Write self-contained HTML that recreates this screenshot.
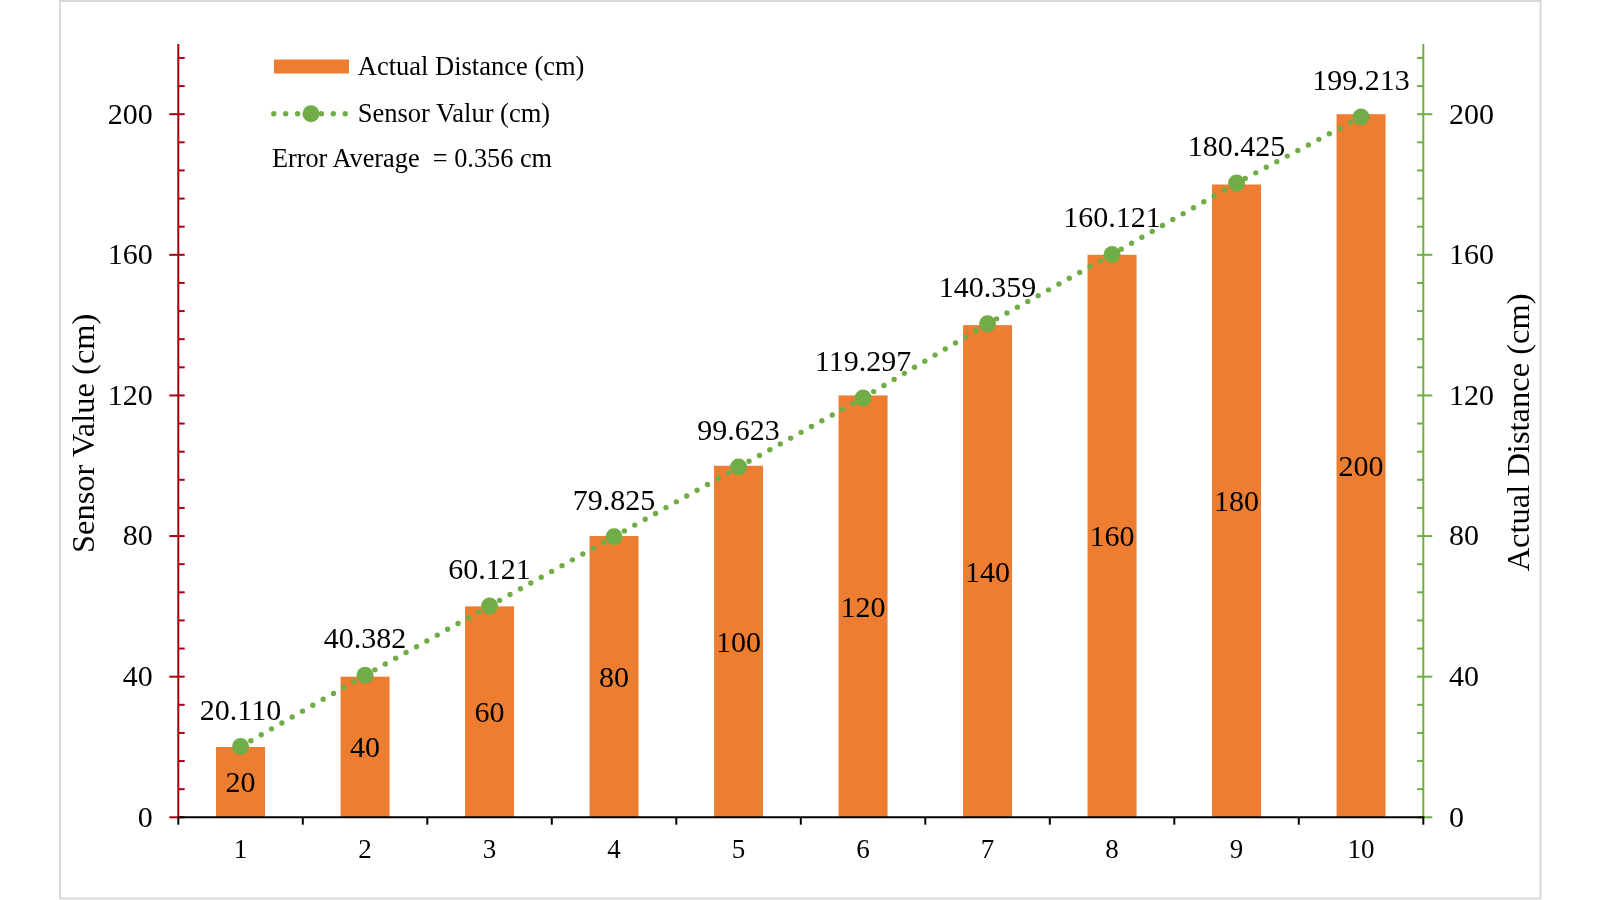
<!DOCTYPE html><html><head><meta charset="utf-8"><style>html,body{margin:0;padding:0;background:#fff;}svg{display:block;will-change:transform;}text{font-family:"Liberation Serif",serif;fill:#000;}</style></head><body>
<svg width="1600" height="900" viewBox="0 0 1600 900">
<rect x="0" y="0" width="1600" height="900" fill="#fff"/>
<rect x="60" y="1" width="1480.5" height="897.5" fill="none" stroke="#d9d9d9" stroke-width="2"/>
<rect x="216.05" y="746.99" width="49" height="70.31" fill="#ed7d31"/>
<rect x="340.55" y="676.68" width="49" height="140.62" fill="#ed7d31"/>
<rect x="465.05" y="606.37" width="49" height="210.93" fill="#ed7d31"/>
<rect x="589.55" y="536.06" width="49" height="281.24" fill="#ed7d31"/>
<rect x="714.05" y="465.75" width="49" height="351.55" fill="#ed7d31"/>
<rect x="838.55" y="395.44" width="49" height="421.86" fill="#ed7d31"/>
<rect x="963.05" y="325.13" width="49" height="492.17" fill="#ed7d31"/>
<rect x="1087.55" y="254.82" width="49" height="562.48" fill="#ed7d31"/>
<rect x="1212.05" y="184.51" width="49" height="632.79" fill="#ed7d31"/>
<rect x="1336.55" y="114.20" width="49" height="703.10" fill="#ed7d31"/>
<line x1="169.3" y1="817.30" x2="184.7" y2="817.30" stroke="#a8000f" stroke-width="2"/>
<line x1="178.3" y1="789.18" x2="184.7" y2="789.18" stroke="#a8000f" stroke-width="2"/>
<line x1="178.3" y1="761.05" x2="184.7" y2="761.05" stroke="#a8000f" stroke-width="2"/>
<line x1="178.3" y1="732.93" x2="184.7" y2="732.93" stroke="#a8000f" stroke-width="2"/>
<line x1="178.3" y1="704.80" x2="184.7" y2="704.80" stroke="#a8000f" stroke-width="2"/>
<line x1="169.3" y1="676.68" x2="184.7" y2="676.68" stroke="#a8000f" stroke-width="2"/>
<line x1="178.3" y1="648.56" x2="184.7" y2="648.56" stroke="#a8000f" stroke-width="2"/>
<line x1="178.3" y1="620.43" x2="184.7" y2="620.43" stroke="#a8000f" stroke-width="2"/>
<line x1="178.3" y1="592.31" x2="184.7" y2="592.31" stroke="#a8000f" stroke-width="2"/>
<line x1="178.3" y1="564.18" x2="184.7" y2="564.18" stroke="#a8000f" stroke-width="2"/>
<line x1="169.3" y1="536.06" x2="184.7" y2="536.06" stroke="#a8000f" stroke-width="2"/>
<line x1="178.3" y1="507.94" x2="184.7" y2="507.94" stroke="#a8000f" stroke-width="2"/>
<line x1="178.3" y1="479.81" x2="184.7" y2="479.81" stroke="#a8000f" stroke-width="2"/>
<line x1="178.3" y1="451.69" x2="184.7" y2="451.69" stroke="#a8000f" stroke-width="2"/>
<line x1="178.3" y1="423.56" x2="184.7" y2="423.56" stroke="#a8000f" stroke-width="2"/>
<line x1="169.3" y1="395.44" x2="184.7" y2="395.44" stroke="#a8000f" stroke-width="2"/>
<line x1="178.3" y1="367.32" x2="184.7" y2="367.32" stroke="#a8000f" stroke-width="2"/>
<line x1="178.3" y1="339.19" x2="184.7" y2="339.19" stroke="#a8000f" stroke-width="2"/>
<line x1="178.3" y1="311.07" x2="184.7" y2="311.07" stroke="#a8000f" stroke-width="2"/>
<line x1="178.3" y1="282.94" x2="184.7" y2="282.94" stroke="#a8000f" stroke-width="2"/>
<line x1="169.3" y1="254.82" x2="184.7" y2="254.82" stroke="#a8000f" stroke-width="2"/>
<line x1="178.3" y1="226.70" x2="184.7" y2="226.70" stroke="#a8000f" stroke-width="2"/>
<line x1="178.3" y1="198.57" x2="184.7" y2="198.57" stroke="#a8000f" stroke-width="2"/>
<line x1="178.3" y1="170.45" x2="184.7" y2="170.45" stroke="#a8000f" stroke-width="2"/>
<line x1="178.3" y1="142.32" x2="184.7" y2="142.32" stroke="#a8000f" stroke-width="2"/>
<line x1="169.3" y1="114.20" x2="184.7" y2="114.20" stroke="#a8000f" stroke-width="2"/>
<line x1="178.3" y1="86.08" x2="184.7" y2="86.08" stroke="#a8000f" stroke-width="2"/>
<line x1="178.3" y1="57.95" x2="184.7" y2="57.95" stroke="#a8000f" stroke-width="2"/>
<line x1="178.3" y1="43.89" x2="178.3" y2="817.30" stroke="#a8000f" stroke-width="2"/>
<line x1="1417" y1="817.30" x2="1432.3" y2="817.30" stroke="#70ad47" stroke-width="2"/>
<line x1="1417" y1="789.18" x2="1423.3" y2="789.18" stroke="#70ad47" stroke-width="2"/>
<line x1="1417" y1="761.05" x2="1423.3" y2="761.05" stroke="#70ad47" stroke-width="2"/>
<line x1="1417" y1="732.93" x2="1423.3" y2="732.93" stroke="#70ad47" stroke-width="2"/>
<line x1="1417" y1="704.80" x2="1423.3" y2="704.80" stroke="#70ad47" stroke-width="2"/>
<line x1="1417" y1="676.68" x2="1432.3" y2="676.68" stroke="#70ad47" stroke-width="2"/>
<line x1="1417" y1="648.56" x2="1423.3" y2="648.56" stroke="#70ad47" stroke-width="2"/>
<line x1="1417" y1="620.43" x2="1423.3" y2="620.43" stroke="#70ad47" stroke-width="2"/>
<line x1="1417" y1="592.31" x2="1423.3" y2="592.31" stroke="#70ad47" stroke-width="2"/>
<line x1="1417" y1="564.18" x2="1423.3" y2="564.18" stroke="#70ad47" stroke-width="2"/>
<line x1="1417" y1="536.06" x2="1432.3" y2="536.06" stroke="#70ad47" stroke-width="2"/>
<line x1="1417" y1="507.94" x2="1423.3" y2="507.94" stroke="#70ad47" stroke-width="2"/>
<line x1="1417" y1="479.81" x2="1423.3" y2="479.81" stroke="#70ad47" stroke-width="2"/>
<line x1="1417" y1="451.69" x2="1423.3" y2="451.69" stroke="#70ad47" stroke-width="2"/>
<line x1="1417" y1="423.56" x2="1423.3" y2="423.56" stroke="#70ad47" stroke-width="2"/>
<line x1="1417" y1="395.44" x2="1432.3" y2="395.44" stroke="#70ad47" stroke-width="2"/>
<line x1="1417" y1="367.32" x2="1423.3" y2="367.32" stroke="#70ad47" stroke-width="2"/>
<line x1="1417" y1="339.19" x2="1423.3" y2="339.19" stroke="#70ad47" stroke-width="2"/>
<line x1="1417" y1="311.07" x2="1423.3" y2="311.07" stroke="#70ad47" stroke-width="2"/>
<line x1="1417" y1="282.94" x2="1423.3" y2="282.94" stroke="#70ad47" stroke-width="2"/>
<line x1="1417" y1="254.82" x2="1432.3" y2="254.82" stroke="#70ad47" stroke-width="2"/>
<line x1="1417" y1="226.70" x2="1423.3" y2="226.70" stroke="#70ad47" stroke-width="2"/>
<line x1="1417" y1="198.57" x2="1423.3" y2="198.57" stroke="#70ad47" stroke-width="2"/>
<line x1="1417" y1="170.45" x2="1423.3" y2="170.45" stroke="#70ad47" stroke-width="2"/>
<line x1="1417" y1="142.32" x2="1423.3" y2="142.32" stroke="#70ad47" stroke-width="2"/>
<line x1="1417" y1="114.20" x2="1432.3" y2="114.20" stroke="#70ad47" stroke-width="2"/>
<line x1="1417" y1="86.08" x2="1423.3" y2="86.08" stroke="#70ad47" stroke-width="2"/>
<line x1="1417" y1="57.95" x2="1423.3" y2="57.95" stroke="#70ad47" stroke-width="2"/>
<line x1="1423.3" y1="43.89" x2="1423.3" y2="817.30" stroke="#70ad47" stroke-width="2"/>
<line x1="178.3" y1="817.3" x2="1424.3" y2="817.3" stroke="#000" stroke-width="2"/>
<line x1="178.30" y1="817.3" x2="178.30" y2="824.7" stroke="#000" stroke-width="2"/>
<line x1="302.80" y1="817.3" x2="302.80" y2="824.7" stroke="#000" stroke-width="2"/>
<line x1="427.30" y1="817.3" x2="427.30" y2="824.7" stroke="#000" stroke-width="2"/>
<line x1="551.80" y1="817.3" x2="551.80" y2="824.7" stroke="#000" stroke-width="2"/>
<line x1="676.30" y1="817.3" x2="676.30" y2="824.7" stroke="#000" stroke-width="2"/>
<line x1="800.80" y1="817.3" x2="800.80" y2="824.7" stroke="#000" stroke-width="2"/>
<line x1="925.30" y1="817.3" x2="925.30" y2="824.7" stroke="#000" stroke-width="2"/>
<line x1="1049.80" y1="817.3" x2="1049.80" y2="824.7" stroke="#000" stroke-width="2"/>
<line x1="1174.30" y1="817.3" x2="1174.30" y2="824.7" stroke="#000" stroke-width="2"/>
<line x1="1298.80" y1="817.3" x2="1298.80" y2="824.7" stroke="#000" stroke-width="2"/>
<line x1="1423.30" y1="817.3" x2="1423.30" y2="824.7" stroke="#000" stroke-width="2"/>
<path d="M240.55,746.60 L365.05,675.34 L489.55,605.94 L614.05,536.68 L738.55,467.08 L863.05,397.91 L987.55,323.87 L1112.05,254.39 L1236.55,183.02 L1361.05,116.97" fill="none" stroke="#70ad47" stroke-width="5.4" stroke-linecap="round" stroke-dasharray="0 11.9"/>
<circle cx="240.55" cy="746.60" r="8.5" fill="#70ad47"/>
<circle cx="365.05" cy="675.34" r="8.5" fill="#70ad47"/>
<circle cx="489.55" cy="605.94" r="8.5" fill="#70ad47"/>
<circle cx="614.05" cy="536.68" r="8.5" fill="#70ad47"/>
<circle cx="738.55" cy="467.08" r="8.5" fill="#70ad47"/>
<circle cx="863.05" cy="397.91" r="8.5" fill="#70ad47"/>
<circle cx="987.55" cy="323.87" r="8.5" fill="#70ad47"/>
<circle cx="1112.05" cy="254.39" r="8.5" fill="#70ad47"/>
<circle cx="1236.55" cy="183.02" r="8.5" fill="#70ad47"/>
<circle cx="1361.05" cy="116.97" r="8.5" fill="#70ad47"/>
<text x="152.8" y="826.60" font-size="30" text-anchor="end">0</text>
<text x="1449" y="826.60" font-size="30">0</text>
<text x="152.8" y="685.98" font-size="30" text-anchor="end">40</text>
<text x="1449" y="685.98" font-size="30">40</text>
<text x="152.8" y="545.36" font-size="30" text-anchor="end">80</text>
<text x="1449" y="545.36" font-size="30">80</text>
<text x="152.8" y="404.74" font-size="30" text-anchor="end">120</text>
<text x="1449" y="404.74" font-size="30">120</text>
<text x="152.8" y="264.12" font-size="30" text-anchor="end">160</text>
<text x="1449" y="264.12" font-size="30">160</text>
<text x="152.8" y="123.50" font-size="30" text-anchor="end">200</text>
<text x="1449" y="123.50" font-size="30">200</text>
<text x="240.55" y="857.8" font-size="27" text-anchor="middle">1</text>
<text x="365.05" y="857.8" font-size="27" text-anchor="middle">2</text>
<text x="489.55" y="857.8" font-size="27" text-anchor="middle">3</text>
<text x="614.05" y="857.8" font-size="27" text-anchor="middle">4</text>
<text x="738.55" y="857.8" font-size="27" text-anchor="middle">5</text>
<text x="863.05" y="857.8" font-size="27" text-anchor="middle">6</text>
<text x="987.55" y="857.8" font-size="27" text-anchor="middle">7</text>
<text x="1112.05" y="857.8" font-size="27" text-anchor="middle">8</text>
<text x="1236.55" y="857.8" font-size="27" text-anchor="middle">9</text>
<text x="1361.05" y="857.8" font-size="27" text-anchor="middle">10</text>
<text x="240.55" y="719.60" font-size="30" text-anchor="middle">20.110</text>
<text x="365.05" y="648.34" font-size="30" text-anchor="middle">40.382</text>
<text x="489.55" y="578.94" font-size="30" text-anchor="middle">60.121</text>
<text x="614.05" y="509.68" font-size="30" text-anchor="middle">79.825</text>
<text x="738.55" y="440.08" font-size="30" text-anchor="middle">99.623</text>
<text x="863.05" y="370.91" font-size="30" text-anchor="middle">119.297</text>
<text x="987.55" y="296.87" font-size="30" text-anchor="middle">140.359</text>
<text x="1112.05" y="227.39" font-size="30" text-anchor="middle">160.121</text>
<text x="1236.55" y="156.02" font-size="30" text-anchor="middle">180.425</text>
<text x="1361.05" y="89.97" font-size="30" text-anchor="middle">199.213</text>
<text x="240.55" y="792.44" font-size="30" text-anchor="middle">20</text>
<text x="365.05" y="757.29" font-size="30" text-anchor="middle">40</text>
<text x="489.55" y="722.13" font-size="30" text-anchor="middle">60</text>
<text x="614.05" y="686.98" font-size="30" text-anchor="middle">80</text>
<text x="738.55" y="651.82" font-size="30" text-anchor="middle">100</text>
<text x="863.05" y="616.67" font-size="30" text-anchor="middle">120</text>
<text x="987.55" y="581.51" font-size="30" text-anchor="middle">140</text>
<text x="1112.05" y="546.36" font-size="30" text-anchor="middle">160</text>
<text x="1236.55" y="511.21" font-size="30" text-anchor="middle">180</text>
<text x="1361.05" y="476.05" font-size="30" text-anchor="middle">200</text>
<text transform="translate(94.3,433.3) rotate(-90)" font-size="32.5" text-anchor="middle">Sensor Value (cm)</text>
<text transform="translate(1528.8,432.4) rotate(-90)" font-size="32.5" text-anchor="middle">Actual Distance (cm)</text>
<rect x="274" y="59.5" width="75" height="14" fill="#ed7d31"/>
<text x="357.8" y="75" font-size="26.5">Actual Distance (cm)</text>
<line x1="273.8" y1="113.7" x2="346" y2="113.7" stroke="#70ad47" stroke-width="5.4" stroke-linecap="round" stroke-dasharray="0 11.9"/>
<circle cx="311" cy="113.7" r="8.5" fill="#70ad47"/>
<text x="357.8" y="121.8" font-size="26.5">Sensor Valur (cm)</text>
<text x="271.9" y="167.2" font-size="26.3" xml:space="preserve">Error Average  = 0.356 cm</text>
</svg></body></html>
